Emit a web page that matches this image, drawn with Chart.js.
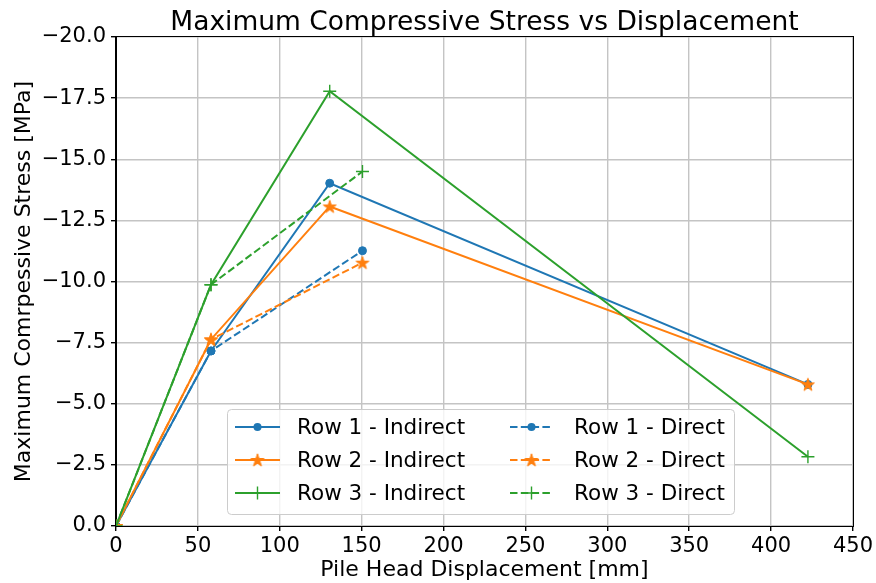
<!DOCTYPE html>
<html>
<head>
<meta charset="utf-8">
<script src="https://cdn.jsdelivr.net/npm/chart.js@4/dist/chart.umd.min.js"></script>
<style>
  html, body { margin: 0; padding: 0; background: #fff; }
  #wrap { width: 876px; height: 583px; }
</style>
</head>
<body>
<div id="wrap"><canvas id="c" width="876" height="583"></canvas></div>
<script>
// Pile head displacement vs peak compressive stress, per pile row
const titleText = 'Maximum Compressive Stress vs Displacement';
const xLabel = 'Pile Head Displacement [mm]';
const yLabel = 'Maximum Comrpessive Stress [MPa]';

const xIndirect = [0, 58, 130.5, 422.5];
const row1Indirect = [0, -7.16, -14.02, -5.79];
const row2Indirect = [0, -7.63, -13.07, -5.79];
const row3Indirect = [0, -9.87, -17.78, -2.83];

const xDirect = [0, 58, 150.5];
const row1Direct = [0, -7.16, -11.26];
const row2Direct = [0, -7.63, -10.77];
const row3Direct = [0, -9.87, -14.5];

const seriesLabels = [
  'Row 1 - Indirect', 'Row 2 - Indirect', 'Row 3 - Indirect',
  'Row 1 - Direct', 'Row 2 - Direct', 'Row 3 - Direct'
];

const xTickStep = 50;
const yTickStep = 2.5;

const BLUE = '#1f77b4', ORANGE = '#ff7f0e', GREEN = '#2ca02c';
const FONT = "'DejaVu Sans', sans-serif";
const DASH = [7.5, 3.3];

// filled five-point star marker
function starMarker(r, color) {
  const s = Math.ceil(r * 2 + 4);
  const c = document.createElement('canvas');
  c.width = c.height = s;
  const g = c.getContext('2d');
  g.translate(s / 2, s / 2 + r * 0.09);
  g.beginPath();
  for (let i = 0; i < 10; i++) {
    const rad = i % 2 ? r * 0.382 : r;
    const a = -Math.PI / 2 + i * Math.PI / 5;
    g.lineTo(rad * Math.cos(a), rad * Math.sin(a));
  }
  g.closePath();
  g.fillStyle = color;
  g.fill();
  g.strokeStyle = color;
  g.lineWidth = 1;
  g.stroke();
  return c;
}
const STAR = starMarker(6.8, ORANGE);

function pts(xs, ys) { return xs.map((x, i) => ({ x: x, y: ys[i] })); }

const markerSpec = [
  { style: 'circle', radius: 4, bw: 1 },
  { style: STAR, radius: 7, bw: 1 },
  { style: 'cross', radius: 6.5, bw: 1.4 }
];
const colors = [BLUE, ORANGE, GREEN];
const ySets = [row1Indirect, row2Indirect, row3Indirect, row1Direct, row2Direct, row3Direct];

const datasets = ySets.map((ys, i) => {
  const k = i % 3;
  const direct = i >= 3;
  return {
    label: seriesLabels[i],
    data: pts(direct ? xDirect : xIndirect, ys),
    borderColor: colors[k],
    backgroundColor: colors[k],
    borderWidth: 2,
    borderDash: direct ? DASH : [],
    pointStyle: markerSpec[k].style,
    pointRadius: markerSpec[k].radius,
    pointBorderWidth: markerSpec[k].bw,
    pointHoverRadius: markerSpec[k].radius,
    tension: 0,
    fill: false,
    order: 6 - i
  };
});

function fmtTick(v) {
  const s = Math.abs(v) < 1e-9 ? '0.0' : v.toFixed(1);
  return s.replace('-', '\u2212');
}

// title and framing spines
const framePlugin = {
  id: 'frame',
  afterDatasetsDraw(chart) {
    const { ctx, chartArea: a } = chart;
    ctx.save();
    ctx.strokeStyle = '#000';
    ctx.lineWidth = 1;
    ctx.strokeRect(Math.round(a.left) - 0.5, Math.round(a.top) - 0.5,
                   Math.round(a.right - a.left) + 1, Math.round(a.bottom - a.top) + 1);
    ctx.fillStyle = '#000';
    ctx.font = '26.5px ' + FONT;
    ctx.textAlign = 'center';
    ctx.textBaseline = 'alphabetic';
    ctx.fillText(titleText, (a.left + a.right) / 2, 30);
    ctx.restore();
  }
};

// two-column legend box inside the plot
const legendPlugin = {
  id: 'boxLegend',
  afterDraw(chart) {
    const ctx = chart.ctx;
    const box = { x: 227.5, y: 409.5, w: 507, h: 105, r: 4 };
    ctx.save();
    ctx.beginPath();
    ctx.roundRect(box.x, box.y, box.w, box.h, box.r);
    ctx.fillStyle = 'rgba(255,255,255,0.8)';
    ctx.fill();
    ctx.strokeStyle = '#cccccc';
    ctx.lineWidth = 1;
    ctx.stroke();

    const cols = [{ x0: 235, x1: 280, tx: 297 }, { x0: 510, x1: 553, tx: 574 }];
    const rows = [427, 460, 493];
    chart.data.datasets.forEach((ds, i) => {
      const col = cols[i < 3 ? 0 : 1];
      const y = rows[i % 3];
      ctx.setLineDash(ds.borderDash || []);
      ctx.strokeStyle = ds.borderColor;
      ctx.lineWidth = ds.borderWidth;
      ctx.beginPath();
      ctx.moveTo(col.x0, y);
      ctx.lineTo(col.x1, y);
      ctx.stroke();
      ctx.setLineDash([]);
      const cx = (col.x0 + col.x1) / 2;
      const st = ds.pointStyle;
      if (st instanceof HTMLCanvasElement) {
        ctx.drawImage(st, cx - st.width / 2, y - st.height / 2);
      } else if (st === 'circle') {
        ctx.beginPath();
        ctx.arc(cx, y, ds.pointRadius, 0, Math.PI * 2);
        ctx.fillStyle = ds.backgroundColor;
        ctx.fill();
      } else if (st === 'cross') {
        const r = ds.pointRadius;
        ctx.lineWidth = ds.pointBorderWidth;
        ctx.beginPath();
        ctx.moveTo(cx - r, y); ctx.lineTo(cx + r, y);
        ctx.moveTo(cx, y - r); ctx.lineTo(cx, y + r);
        ctx.stroke();
      }
      ctx.fillStyle = '#000';
      ctx.font = '21.5px ' + FONT;
      ctx.textAlign = 'left';
      ctx.textBaseline = 'middle';
      ctx.fillText(ds.label, col.tx, y + 1);
    });
    ctx.restore();
  }
};

const gridOpts = { color: '#c4c4c4', lineWidth: 1.4, tickColor: '#000', tickLength: 5, drawTicks: true };

new Chart(document.getElementById('c'), {
  type: 'line',
  data: { datasets: datasets },
  options: {
    responsive: false,
    animation: false,
    devicePixelRatio: 1,
    layout: { padding: { top: 37, right: 22, bottom: 0, left: 0 } },
    plugins: { legend: { display: false }, title: { display: false }, tooltip: { enabled: false } },
    scales: {
      x: {
        type: 'linear',
        min: 0, max: 450,
        grid: gridOpts,
        border: { color: '#000', width: 1 },
        ticks: {
          stepSize: xTickStep, color: '#000', padding: 3,
          font: { family: FONT, size: 21 },
          maxRotation: 0, autoSkip: false
        },
        title: {
          display: true, text: xLabel, color: '#000',
          font: { family: FONT, size: 22 }, padding: { top: 0, bottom: 0 }
        },
        afterFit(s) { s.height = 57; }
      },
      y: {
        type: 'linear',
        min: -20, max: 0,
        reverse: true,
        grid: gridOpts,
        border: { color: '#000', width: 1 },
        ticks: {
          stepSize: yTickStep, color: '#000', padding: 5,
          font: { family: FONT, size: 21 },
          callback: (v) => fmtTick(v)
        },
        title: {
          display: true, text: yLabel, color: '#000',
          font: { family: FONT, size: 22 }, padding: { top: 11, bottom: 4 }
        },
        afterFit(s) { s.width = 116; }
      }
    }
  },
  plugins: [framePlugin, legendPlugin]
});
</script>
</body>
</html>
